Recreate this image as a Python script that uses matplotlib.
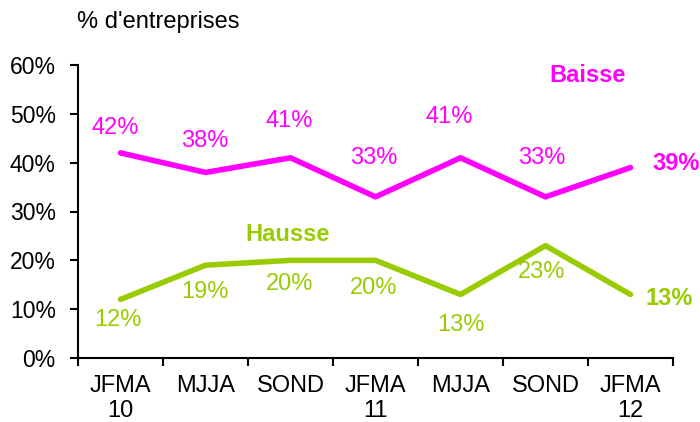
import matplotlib.pyplot as plt

plt.rcParams['font.family'] = ['Liberation Sans', 'DejaVu Sans']

periodes = ["JFMA\n10", "MJJA", "SOND", "JFMA\n11", "MJJA", "SOND", "JFMA\n12"]
baisse = [42, 38, 41, 33, 41, 33, 39]
hausse = [12, 19, 20, 20, 13, 23, 13]

rose = "#FF00FF"
vert = "#99CC00"

# label offsets in pixels (dx, dy), dy positive = above the point
dx_baisse = [-5, -1, -1, -2, -11, -4]
dy_baisse = [25, 31, 37, 39, 41, 39]
dx_hausse = [-3, -1, -1, -2, 0, -4]
dy_hausse = [-21, -27, -24, -28, -30, -26]

px = 0.72  # pixels -> points at dpi 100

fig = plt.figure(figsize=(7, 4.22), dpi=100)
ax = fig.add_axes([78 / 700, 1 - 358 / 422, 595 / 700, (358 - 65) / 422])

x = list(range(len(periodes)))
ax.plot(x, baisse, color=rose, lw=4, solid_capstyle='round', solid_joinstyle='round')
ax.plot(x, hausse, color=vert, lw=4, solid_capstyle='round', solid_joinstyle='round')

for i in range(len(x) - 1):
    ax.annotate(f"{baisse[i]}%", (x[i], baisse[i]),
                xytext=(dx_baisse[i] * px, dy_baisse[i] * px),
                textcoords='offset points', ha='center', va='center', color=rose, fontsize=17)
    ax.annotate(f"{hausse[i]}%", (x[i], hausse[i]),
                xytext=(dx_hausse[i] * px, dy_hausse[i] * px),
                textcoords='offset points', ha='center', va='center', color=vert, fontsize=17)

ax.annotate(f"{baisse[-1]}%", (x[-1], baisse[-1]), xytext=(22 * px, 4 * px),
            textcoords='offset points', ha='left', va='center', color=rose,
            fontsize=17, fontweight='bold')
ax.annotate(f"{hausse[-1]}%", (x[-1], hausse[-1]), xytext=(15 * px, -4 * px),
            textcoords='offset points', ha='left', va='center', color=vert,
            fontsize=17, fontweight='bold')

ax.text(5.5, 57.8, "Baisse", color=rose, fontsize=17, fontweight='bold', ha='center', va='center')
ax.text(1.96, 25.2, "Hausse", color=vert, fontsize=17, fontweight='bold', ha='center', va='center')
fig.text(77 / 700, 1 - 22 / 422, "% d'entreprises", fontsize=17, ha='left', va='center')

ax.set_xlim(-0.5, 6.5)
ax.set_ylim(0, 60)
ax.set_yticks(range(0, 61, 10))
ax.set_yticklabels([f"{v}%" for v in range(0, 61, 10)], fontsize=16.5)
ax.set_xticks(x)
ax.set_xticklabels(periodes, fontsize=17)
ax.set_xticks([i - 0.5 for i in range(len(x) + 1)], minor=True)
ax.tick_params(axis='x', which='major', length=0, pad=12)
ax.tick_params(axis='x', which='minor', length=6, width=1.5, direction='out')
ax.tick_params(axis='y', length=6, width=1.5, direction='out', pad=10)

for s in ['top', 'right']:
    ax.spines[s].set_visible(False)
for s in ['left', 'bottom']:
    ax.spines[s].set_linewidth(1.5)

fig.savefig("out.png", dpi=100)
